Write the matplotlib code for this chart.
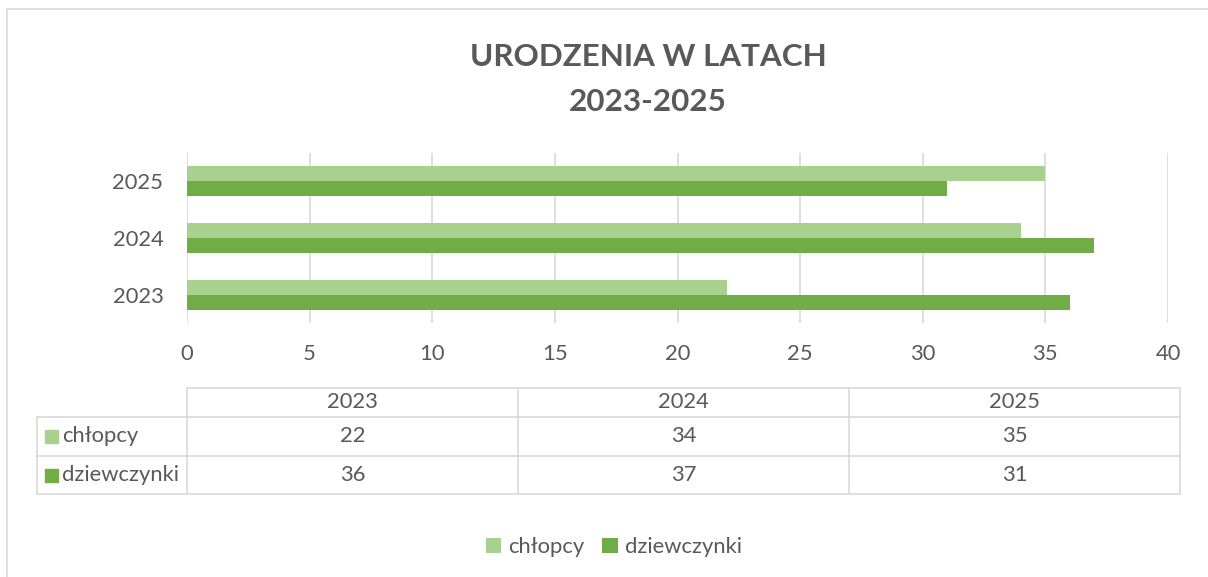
import numpy as np
import matplotlib
matplotlib.use("Agg")
import matplotlib.pyplot as plt
from matplotlib.patches import Rectangle

plt.rcParams['font.family'] = ['Lato', 'DejaVu Sans']

years = ['2023', '2024', '2025']
series = ['chłopcy', 'dziewczynki']
boys = [22, 34, 35]
girls = [36, 37, 31]
colors = ['#A9D18E', '#70AD47']
text_col = '#595959'
grid_col = '#D9D9D9'

W, H = 1208, 577
fs = 15.8
fig = plt.figure(figsize=(W / 100, H / 100), dpi=100)

# outer chart border (top and left visible)
fig.patches.append(Rectangle((7 / W, -0.1), 1.2, 1 - 9 / H + 0.1, transform=fig.transFigure,
                             fill=False, edgecolor=grid_col, linewidth=1.2))

ax = fig.add_axes([187 / W, 1 - 323 / H, (1168 - 187) / W, (323 - 153) / H])
y = np.arange(len(years))
bh = 0.263
b1 = ax.barh(y + bh / 2, boys, height=bh, color=colors[0], label=series[0], zorder=3)
b2 = ax.barh(y - bh / 2, girls, height=bh, color=colors[1], label=series[1], zorder=3)
ax.set_xlim(0, 40)
ax.set_ylim(-0.5, 2.5)
ax.set_xticks(np.arange(0, 41, 5))
ax.set_yticks(y)
ax.set_yticklabels(years)
ax.grid(axis='x', color=grid_col, linewidth=1.2, zorder=0)
for s in ax.spines.values():
    s.set_visible(False)
ax.tick_params(length=0, labelsize=fs, labelcolor=text_col)
ax.tick_params(axis='y', pad=17)
ax.tick_params(axis='x', pad=15)

fig.text(648 / W, 1 - 57 / H, 'URODZENIA W LATACH', ha='center', va='center',
         fontsize=22.6, fontweight='bold', color=text_col)
fig.text(648 / W, 1 - 102 / H, '2023-2025', ha='center', va='center',
         fontsize=22.6, fontweight='bold', color=text_col)

# data table under the chart
tab = fig.add_axes([0, 0, 1, 1])
tab.set_xlim(0, W)
tab.set_ylim(H, 0)
tab.axis('off')
col_x = [187 + 331 * i for i in range(len(years) + 1)]
row_y = [388, 417, 456, 494]
lab_x = 37
lw = 1.2
tab.plot([col_x[0], col_x[-1]], [row_y[0], row_y[0]], color=grid_col, lw=lw)
for ry in row_y[1:]:
    tab.plot([lab_x, col_x[-1]], [ry, ry], color=grid_col, lw=lw)
for cx in col_x:
    tab.plot([cx, cx], [row_y[0], row_y[-1]], color=grid_col, lw=lw)
tab.plot([lab_x, lab_x], [row_y[1], row_y[-1]], color=grid_col, lw=lw)
for j, yr in enumerate(years):
    tab.text((col_x[j] + col_x[j + 1]) / 2, (row_y[0] + row_y[1]) / 2, yr,
             ha='center', va='center', fontsize=fs, color=text_col)
for i, (name, vals) in enumerate(zip(series, [boys, girls])):
    cy = (row_y[i + 1] + row_y[i + 2]) / 2
    tab.add_patch(Rectangle((45, cy - 6.5), 13, 13, color=colors[i]))
    tab.text(62, cy, name, ha='left', va='center', fontsize=fs, color=text_col)
    for j, v in enumerate(vals):
        tab.text((col_x[j] + col_x[j + 1]) / 2, cy, str(v),
                 ha='center', va='center', fontsize=fs, color=text_col)

fig.legend(handles=[b1, b2], loc='center', bbox_to_anchor=(614 / W, 1 - 547 / H),
           ncol=2, frameon=False, fontsize=fs, labelcolor=text_col,
           handlelength=0.7, handleheight=0.7, handletextpad=0.35, columnspacing=0.8)

fig.savefig('out.png', dpi=100, facecolor='white')
